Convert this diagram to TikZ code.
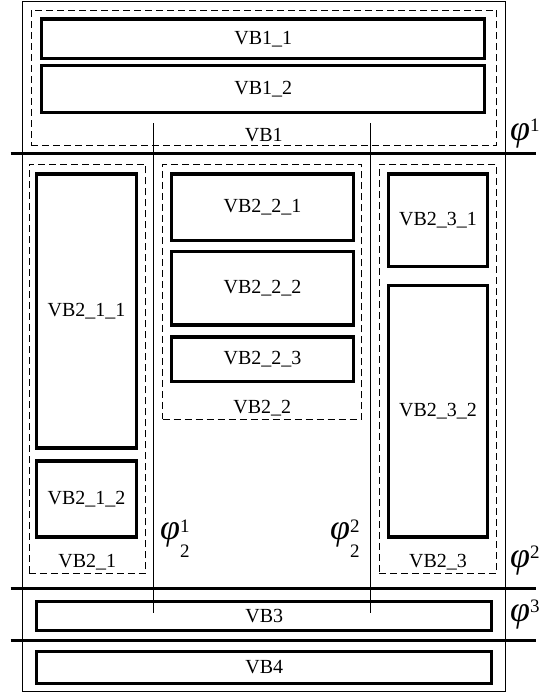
\documentclass[tikz,border=0pt]{standalone}
\usepackage{fontspec}
\setmainfont{Liberation Serif}
\usepackage{tikz}
\usetikzlibrary{positioning}
% phase symbols, set as text
\newcommand{\phsym}{{\itshape φ}}
\newcommand{\phdigit}[1]{{\fontsize{19}{19}\selectfont #1}}
\newcommand{\phup}[1]{\phsym\raisebox{9pt}{\phdigit{#1}}}
\newcommand{\phupdown}[2]{\phsym\rlap{\raisebox{-18pt}{\phdigit{#1}}}\raisebox{7pt}{\phdigit{#2}}}
\tikzset{
  vbox/.style={draw, line width=3.2pt, rectangle, inner sep=0pt, font=\fontsize{20}{22}\selectfont},
  vgroup/.style={draw, line width=0.9pt, dash pattern=on 7pt off 4pt, rectangle, inner sep=0pt},
  glabel/.style={inner sep=0pt, font=\fontsize{20}{22}\selectfont},
  divider/.style={line width=3.5pt},
  phase/.style={inner sep=0pt, anchor=base west, font=\fontsize{36}{40}\selectfont}
}

\begin{document}
\begin{tikzpicture}[x=1pt, y=-1pt]
  \useasboundingbox (0,0) rectangle (547,696);

  % Outer frame
  \node[draw, line width=0.8pt, rectangle, inner sep=0pt, minimum width=483pt, minimum height=690pt] (frame) at (263.5,346.6) {};

  % Group boxes
  \foreach \nm/\cx/\cy/\w/\h/\txt in {vb1/263.8/77.8/465.6/135.7/VB1, vb21/87.3/368.8/116.7/409.5/VB2\_1, vb22/262.2/291.7/199/255.3/VB2\_2, vb23/438/368.8/117.3/409.5/VB2\_3} {
    \node[vgroup, minimum width=\w pt, minimum height=\h pt] (\nm) at (\cx,\cy) {};
    \node[glabel, above=4pt of \nm.south] (\nm lbl) {\txt};
  }

  % Blocks
  \foreach \nm/\cx/\cy/\w/\h/\txt in {
      vb11/263.2/38.7/443/39.5/VB1\_1,
      vb12/263.2/89/443/47/VB1\_2,
      vb211/86.5/311/99.6/274/VB2\_1\_1,
      vb212/86.5/499/99.6/76/VB2\_1\_2,
      vb221/262.5/207.3/182/66.5/VB2\_2\_1,
      vb222/262.5/288.3/182/73.5/VB2\_2\_2,
      vb223/262.5/359.2/182/44.5/VB2\_2\_3,
      vb231/438/220.3/99.5/92.7/VB2\_3\_1,
      vb232/438/411.3/99.5/251.3/VB2\_3\_2,
      vb3/264.2/616.2/455/29/VB3,
      vb4/264.2/667.5/455/31.6/VB4} {
    \node[vbox, minimum width=\w pt, minimum height=\h pt] (\nm) at (\cx,\cy) {\txt};
  }

  % Vertical cuts
  \foreach \n/\x in {1/153, 2/370.5} {
    \coordinate (cut\n top) at (\x,123);
    \coordinate (cut\n bot) at (\x,613);
    \draw[line width=0.9pt] (cut\n top) -- (cut\n bot);
  }
  \node[phase] (phi21) at (160,539) {\phupdown{2}{1}};
  \node[phase] (phi22) at (330,539) {\phupdown{2}{2}};

  % Horizontal cuts
  \foreach \n/\y/\ly in {1/153.5/140, 2/588.3/567, 3/640.7/621} {
    \coordinate (div\n l) at (10.5,\y);
    \coordinate (div\n r) at (536,\y);
    \draw[divider] (div\n l) -- (div\n r);
    \node[phase] (phi\n) at (510,\ly) {\phup{\n}};
  }
\end{tikzpicture}
\end{document}
